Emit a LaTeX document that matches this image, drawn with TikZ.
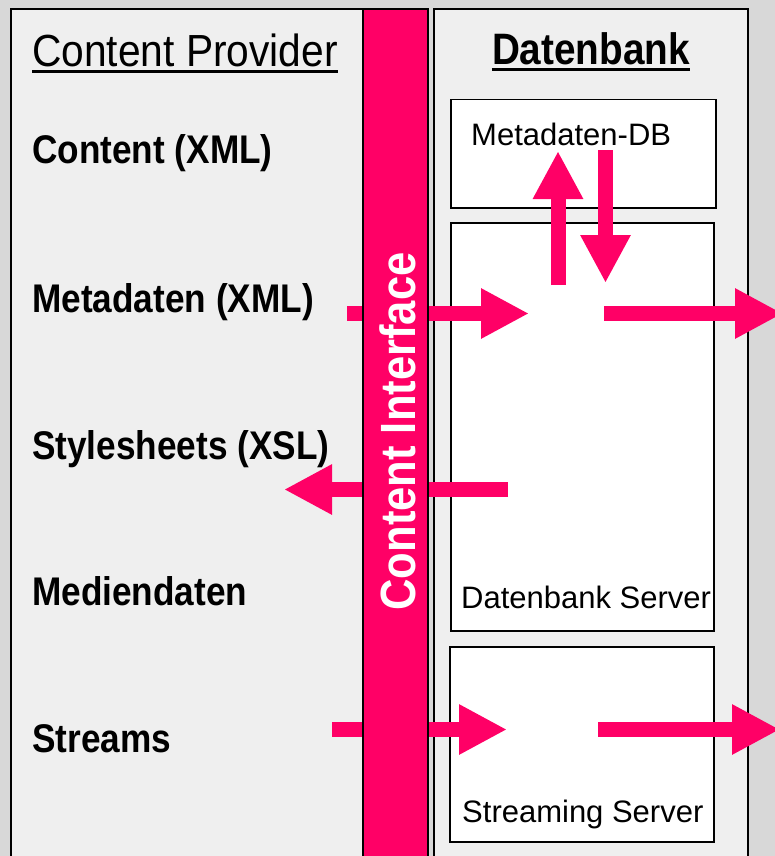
\documentclass[tikz,border=0pt]{standalone}
\usepackage{fontspec}
\setmainfont{Liberation Sans}
\newfontfamily\narrowsans{Liberation Sans}[FakeStretch=0.88,WordSpace=0.75]
\newfontfamily\barsans{Liberation Sans}[FakeStretch=0.88]
\newfontfamily\headsans{Liberation Sans}[FakeStretch=0.905]
\usetikzlibrary{arrows.meta}

\definecolor{tpink}{RGB}{255,0,102}
\definecolor{panelgray}{RGB}{239,239,239}
\definecolor{bggray}{RGB}{216,216,216}

\tikzset{
  panel/.style={draw=black,line width=1.2pt,fill=panelgray},
  srvbox/.style={draw=black,line width=1.5pt,fill=white,inner sep=0pt,anchor=north west},
  fatarrow/.style={draw=tpink,line width=15pt,-{Triangle[length=48pt,width=47pt]}},
  itemtext/.style={inner sep=0pt,anchor=base west,font=\narrowsans\bfseries\fontsize{40}{44}\selectfont},
  srvtext/.style={inner sep=0pt,anchor=base west,font=\fontsize{31}{34}\selectfont}
}

\begin{document}
\begin{tikzpicture}[x=1pt,y=-1pt]
\useasboundingbox (0,0) rectangle (775,856);
\clip (0,0) rectangle (775,856);
\fill[bggray] (0,0) rectangle (775,856);

% the two panels
\draw[panel] (11,9) rectangle (363,880);
\draw[panel] (434,9) rectangle (748,880);

% headings
\node[inner sep=0pt,anchor=base west,font=\headsans\fontsize{45}{50}\selectfont] (provider) at (32,67) {Content Provider};
\draw[line width=3pt] ([yshift=-4.5pt]provider.base west) -- ([yshift=-4.5pt]provider.base east);
\node[inner sep=0pt,anchor=base,font=\barsans\bfseries\fontsize{44}{48}\selectfont] (dbtitle) at (591,65) {Datenbank};
\draw[line width=3pt] ([yshift=-5pt]dbtitle.base west) -- ([yshift=-5pt]dbtitle.base east);

% what the provider delivers
\node[itemtext] (content) at (32,163) {Content (XML)};
\node[itemtext] (metaxml) at (32,312) {Metadaten (XML)};
\node[itemtext] (xsl) at (32,459) {Stylesheets (XSL)};
\node[itemtext] (media) at (32,605) {Mediendaten};
\node[itemtext] (streams) at (32,752) {Streams};

% servers
\node[srvbox,minimum width=265pt,minimum height=108pt] (metadb) at (450,99) {};
\node[srvbox,minimum width=263pt,minimum height=408pt] (dbserver) at (450,222) {};
\node[srvbox,minimum width=264pt,minimum height=195pt] (streamserver) at (449,646) {};
\node[srvtext] (metadbtext) at (471,145) {Metadaten-DB};
\node[srvtext] (dbservertext) at (461,608) {Datenbank Server};
\node[srvtext] (streamtext) at (462,822) {Streaming Server};

% arrows
\coordinate (up from) at (558,285);
\coordinate (up to) at (558,151);
\coordinate (down from) at (605.5,150);
\coordinate (down to) at (605.5,283);
\coordinate (meta from) at (347,313.5);
\coordinate (meta to) at (529,313.5);
\coordinate (meta out from) at (604,313.5);
\coordinate (meta out to) at (783,313.5);
\coordinate (xsl from) at (508,489.5);
\coordinate (xsl to) at (284,489.5);
\coordinate (stream from) at (332,729.5);
\coordinate (stream to) at (507,729.5);
\coordinate (stream out from) at (598,729.5);
\coordinate (stream out to) at (780,729.5);
\draw[fatarrow] (up from) -- (up to);
\draw[fatarrow] (down from) -- (down to);
\draw[fatarrow] (meta from) -- (meta to);
\draw[fatarrow] (meta out from) -- (meta out to);
\draw[fatarrow] (xsl from) -- (xsl to);
\draw[fatarrow] (stream from) -- (stream to);
\draw[fatarrow] (stream out from) -- (stream out to);

% the interface bar
\draw[line width=1.5pt,fill=tpink] (363,9) rectangle (428,880);
\node[rotate=90,anchor=base,inner sep=0pt,text=white,font=\barsans\bfseries\fontsize{49.5}{52}\selectfont] (iface) at (415,431.5) {Content Interface};
\end{tikzpicture}
\end{document}
